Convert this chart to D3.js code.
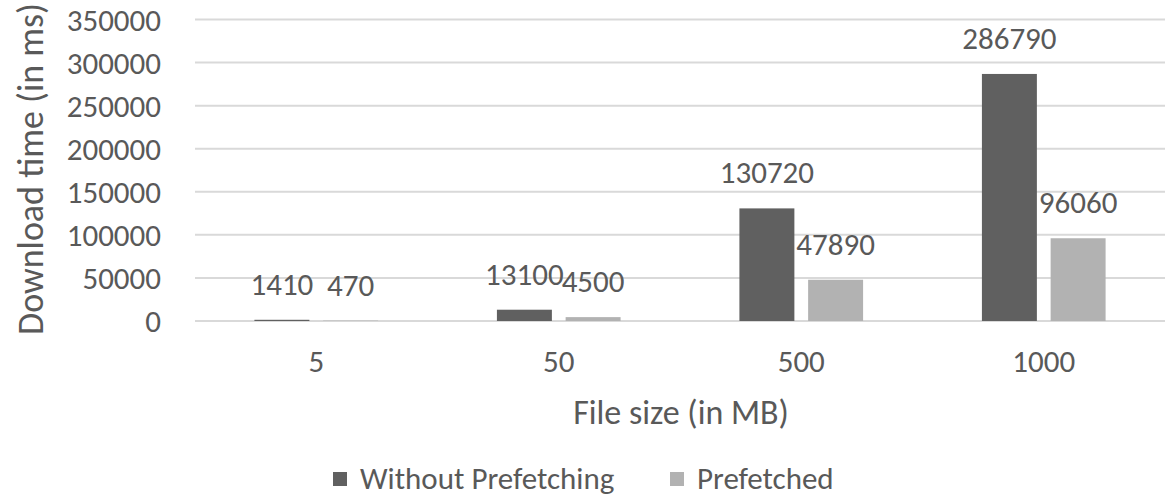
<!DOCTYPE html>
<html>
<head>
<meta charset="utf-8">
<script src="https://cdn.jsdelivr.net/npm/d3@7"></script>
<style>
  body { margin: 0; background: #fff; }
  text { font-family: Carlito, Lato, "Open Sans", sans-serif; fill: #595959; }
</style>
</head>
<body>
<div id="chart"></div>
<script>
// chart data
var sizes = ["5", "50", "500", "1000"];
var withoutPrefetching = [1410, 13100, 130720, 286790];
var prefetched = [470, 4500, 47890, 96060];
var seriesNames = ["Without Prefetching", "Prefetched"];
var yTicks = [0, 50000, 100000, 150000, 200000, 250000, 300000, 350000];

var colors = ["#606060", "#b2b2b2"];
var fontFam = "Carlito, Lato, 'Open Sans', sans-serif";
var fs = "31px", titleFs = "34px";

var width = 1165, height = 499;
var plot = {left: 195, right: 1165, top: 19.5, bottom: 321};

var svg = d3.select("#chart").append("svg")
    .attr("width", width)
    .attr("height", height);

var x0 = d3.scaleBand()
    .domain(sizes)
    .range([plot.left, plot.right])
    .paddingInner(0.49)
    .paddingOuter(0.245);

var x1 = d3.scaleBand()
    .domain([0, 1])
    .range([0, x0.bandwidth()])
    .paddingInner(0.2);

var y = d3.scaleLinear()
    .domain([0, 350000])
    .range([plot.bottom, plot.top]);

// gridlines
svg.append("g")
    .selectAll("line")
    .data(yTicks).enter()
    .append("line")
        .attr("x1", plot.left)
        .attr("x2", plot.right)
        .attr("y1", function(d) { return y(d); })
        .attr("y2", function(d) { return y(d); })
        .style("stroke", "#d9d9d9")
        .style("stroke-width", 2);

// y axis labels
var yAxis = d3.axisLeft(y).tickValues(yTicks).tickSize(0).tickPadding(0)
    .tickFormat(d3.format("d"));
var yg = svg.append("g")
    .attr("transform", "translate(161,0)")
    .call(yAxis);
yg.select(".domain").remove();
yg.selectAll("text")
    .attr("dy", "0.35em")
    .style("font-size", fs)
    .style("fill", "#595959")
    .style("font-family", fontFam);

// x axis labels
var xAxis = d3.axisBottom(x0).tickSize(0).tickPadding(0);
var xg = svg.append("g")
    .attr("transform", "translate(0,372)")
    .call(xAxis);
xg.select(".domain").remove();
xg.selectAll("text")
    .attr("dy", null)
    .attr("y", 0)
    .style("font-size", fs)
    .style("fill", "#595959")
    .style("font-family", fontFam);

// bars
var rows = sizes.map(function(s, i) {
    return {size: s, values: [withoutPrefetching[i], prefetched[i]]};
});

var groups = svg.selectAll(".grp")
    .data(rows).enter()
    .append("g")
        .attr("class", "grp")
        .attr("transform", function(d) { return "translate(" + x0(d.size) + ",0)"; });

groups.selectAll("rect")
    .data(function(d) { return d.values.map(function(v, k) { return {k: k, v: v}; }); })
    .enter().append("rect")
        .attr("x", function(d) { return x1(d.k); })
        .attr("width", x1.bandwidth())
        .attr("y", function(d) { return y(d.v); })
        .attr("height", function(d) { return y(0) - y(d.v); })
        .style("fill", function(d) { return colors[d.k]; });

groups.selectAll(".lbl")
    .data(function(d) { return d.values.map(function(v, k) { return {k: k, v: v}; }); })
    .enter().append("text")
        .attr("class", "lbl")
        .attr("x", function(d) { return x1(d.k) + x1.bandwidth() / 2; })
        .attr("y", function(d) { return y(d.v) - 25; })
        .attr("text-anchor", "middle")
        .style("font-size", fs)
        .text(function(d) { return d.v; });

// axis titles
svg.append("text")
    .attr("transform", "rotate(-90)")
    .attr("x", -169)
    .attr("y", 43)
    .attr("text-anchor", "middle")
    .style("font-size", "36px")
    .text("Download time (in ms)");

svg.append("text")
    .attr("x", 681)
    .attr("y", 424)
    .attr("text-anchor", "middle")
    .style("font-size", titleFs)
    .text("File size (in MB)");

// legend
var legendX = [333, 670];
var legend = svg.selectAll(".legend")
    .data(seriesNames).enter()
    .append("g")
        .attr("class", "legend")
        .attr("transform", function(d, i) { return "translate(" + legendX[i] + ",472)"; });

legend.append("rect")
    .attr("width", 14)
    .attr("height", 14)
    .style("fill", function(d, i) { return colors[i]; });

legend.append("text")
    .attr("x", 27)
    .attr("y", 17)
    .style("font-size", fs)
    .text(function(d) { return d; });
</script>
</body>
</html>
